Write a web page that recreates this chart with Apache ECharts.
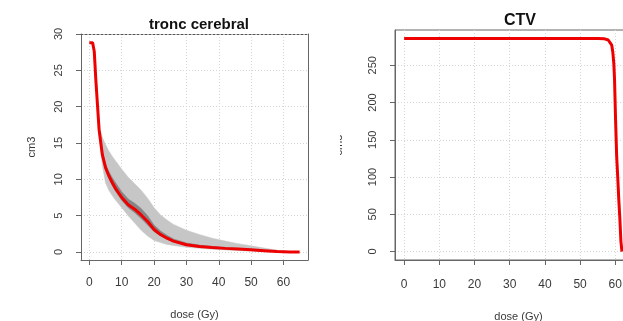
<!DOCTYPE html>
<html>
<head>
<meta charset="utf-8">
<script src="https://cdn.jsdelivr.net/npm/echarts@6/dist/echarts.min.js"></script>
<style>
  html, body { margin: 0; padding: 0; background: #fff; }
  #chart { width: 623px; height: 321px; }
</style>
</head>
<body>
<div id="chart"></div>
<script>
// tronc cerebral : dose (Gy) -> volume (cm3)
const doseTronc = [0, 1, 1.5, 2, 2.5, 3, 4, 5, 6, 7, 8, 10, 12, 14, 16, 18, 20, 22, 24, 26, 30, 34, 38, 42, 46, 50, 54, 58, 62, 65];
const medianTronc = [28.8, 28.8, 27.6, 23.6, 20.2, 16.8, 13.4, 11.6, 10.5, 9.6, 8.8, 7.5, 6.5, 5.9, 5.1, 4.2, 3.1, 2.4, 1.9, 1.5, 1.0, 0.75, 0.62, 0.5, 0.4, 0.3, 0.18, 0.06, 0, 0];
const outerLow = [28.8, 28.8, 27.4, 23.2, 19.5, 15.8, 11.9, 9.5, 8.5, 7.8, 7.2, 6.1, 5.0, 4.0, 3.0, 2.2, 1.6, 1.3, 1.05, 0.9, 0.65, 0.5, 0.38, 0.28, 0.2, 0.12, 0.05, 0, 0, 0];
const outerHigh = [28.8, 28.8, 27.6, 23.8, 20.6, 17.4, 15.8, 14.8, 13.9, 13.2, 12.6, 11.4, 10.3, 9.4, 8.5, 7.4, 6.1, 5.1, 4.4, 3.8, 3.0, 2.4, 1.9, 1.5, 1.15, 0.85, 0.55, 0.25, 0.05, 0];
const innerLow = [28.8, 28.8, 27.5, 23.4, 19.9, 16.5, 13.0, 11.2, 10.1, 9.2, 8.4, 7.1, 6.1, 5.4, 4.6, 3.7, 2.8, 2.2, 1.75, 1.4, 0.92, 0.7, 0.56, 0.45, 0.35, 0.26, 0.15, 0.04, 0, 0];
const innerHigh = [28.8, 28.8, 27.6, 23.8, 20.5, 17.0, 13.8, 12.1, 11.1, 10.3, 9.6, 8.3, 7.3, 6.7, 6.0, 5.0, 3.7, 2.9, 2.3, 1.8, 1.25, 0.95, 0.75, 0.6, 0.48, 0.35, 0.22, 0.08, 0, 0];

// CTV
const doseCtv = [0, 10, 20, 30, 40, 50, 55, 57, 58, 58.5, 59, 59.3, 59.6, 59.8, 60.1, 60.4, 60.7, 61, 61.3, 61.6, 61.9];
const volumeCtv = [286, 286, 286, 286, 286, 286, 286, 285.5, 284, 282, 277, 268, 252, 230, 175, 128, 100, 70, 45, 14, 0];

const doseTicks = [0, 10, 20, 30, 40, 50, 60];
const troncTicks = [0, 5, 10, 15, 20, 25, 30];
const ctvTicks = [0, 50, 100, 150, 200, 250];

const pairs = (xs, ys) => xs.map((x, i) => [x, ys[i]]);
const triples = (xs, lo, hi) => xs.map((x, i) => [x, lo[i], hi[i]]);

const textCol = '#3a3a3a';
const axisCol = '#666';
const font = 'Liberation Sans, Arial, sans-serif';
const gridLine = { show: true, lineStyle: { color: '#d6d6d6', type: [1, 2], width: 1 } };

// polygon between the lower and upper curve, drawn once for the whole band
function bandSeries(data, color) {
    return {
        type: 'custom', xAxisIndex: 0, yAxisIndex: 0, data: data, silent: true,
        encode: { x: 0, y: [1, 2] },
        renderItem: function (params, api) {
            if (params.dataIndex !== 0) return null;
            const top = data.map(d => api.coord([d[0], d[2]]));
            const bottom = data.map(d => api.coord([d[0], d[1]])).reverse();
            return {
                type: 'polygon',
                shape: { points: top.concat(bottom) },
                style: { fill: color, stroke: color, lineWidth: 0.5 }
            };
        }
    };
}

function xAxisFor(gridIndex, gap, margin) {
    return {
        type: 'value', gridIndex: gridIndex, min: -2.6, max: 67.6,
        name: 'dose (Gy)', nameLocation: 'middle', nameGap: gap,
        nameTextStyle: { color: textCol, fontSize: 11, fontFamily: font },
        axisLine: { show: true, onZero: false, lineStyle: { color: axisCol } },
        axisTick: { show: true, inside: false, length: 5, customValues: doseTicks, lineStyle: { color: axisCol } },
        axisLabel: { customValues: doseTicks, color: textCol, fontSize: 12, fontFamily: font, margin: margin },
        splitLine: gridLine
    };
}

function yAxisFor(gridIndex, min, max, ticks, gap, margin) {
    return {
        type: 'value', gridIndex: gridIndex, min: min, max: max,
        name: 'cm3', nameLocation: 'middle', nameGap: gap, nameRotate: 90,
        nameTextStyle: { color: textCol, fontSize: 11, fontFamily: font },
        axisLine: { show: true, onZero: false, lineStyle: { color: axisCol } },
        axisTick: { show: true, inside: false, length: 5, customValues: ticks, lineStyle: { color: axisCol } },
        axisLabel: { customValues: ticks, rotate: 90, color: textCol, fontSize: 11, fontFamily: font, margin: margin },
        splitLine: gridLine
    };
}

const chart = echarts.init(document.getElementById('chart'));

const option = {
    backgroundColor: '#fff',
    animation: false,
    title: [
        { text: 'tronc cerebral', left: 194, top: 12, textAlign: 'center',
          textStyle: { fontSize: 15, fontWeight: 'bold', color: '#111', fontFamily: font } },
        { text: 'CTV', left: 515, top: 8, textAlign: 'center',
          textStyle: { fontSize: 16, fontWeight: 'bold', color: '#111', fontFamily: font } }
    ],
    grid: [
        { left: 81, top: 34, width: 227, height: 226, outerBoundsMode: 'none' },
        { left: 395, top: 30, width: 247, height: 230, outerBoundsMode: 'none',
          show: true, borderColor: axisCol, borderWidth: 1 }
    ],
    xAxis: [
        xAxisFor(0, 49, 17),
        xAxisFor(1, 51, 19),
        // dotted top edge of the left panel
        { type: 'value', gridIndex: 0, position: 'top', min: -2.6, max: 67.6,
          axisLine: { show: true, onZero: false, lineStyle: { color: '#555', type: [2, 2] } },
          axisTick: { show: false }, axisLabel: { show: false }, splitLine: { show: false } }
    ],
    yAxis: [
        yAxisFor(0, -1.1, 30, troncTicks, 44, 17),
        yAxisFor(1, -11.4, 297.4, ctvTicks, 51, 17),
        // right border of the left panel
        { type: 'value', gridIndex: 0, position: 'right', min: -1.1, max: 30,
          axisLine: { show: true, onZero: false, lineStyle: { color: axisCol } },
          axisTick: { show: false }, axisLabel: { show: false }, splitLine: { show: false } }
    ],
    series: [
        bandSeries(triples(doseTronc, outerLow, outerHigh), '#c6c6c6'),
        bandSeries(triples(doseTronc, innerLow, innerHigh), '#858585'),
        { type: 'line', xAxisIndex: 0, yAxisIndex: 0, symbol: 'none',
          data: pairs(doseTronc, medianTronc), lineStyle: { color: '#ee0000', width: 3 } },
        { type: 'line', xAxisIndex: 1, yAxisIndex: 1, symbol: 'none',
          data: pairs(doseCtv, volumeCtv), lineStyle: { color: '#ee0000', width: 3 } }
    ],
    graphic: [
        // the right panel's axis title is partly hidden in the original
        { type: 'rect', z: 100, shape: { x: 320, y: 110, width: 20, height: 70 }, style: { fill: '#fff' } }
    ]
};

chart.setOption(option);
</script>
</body>
</html>
